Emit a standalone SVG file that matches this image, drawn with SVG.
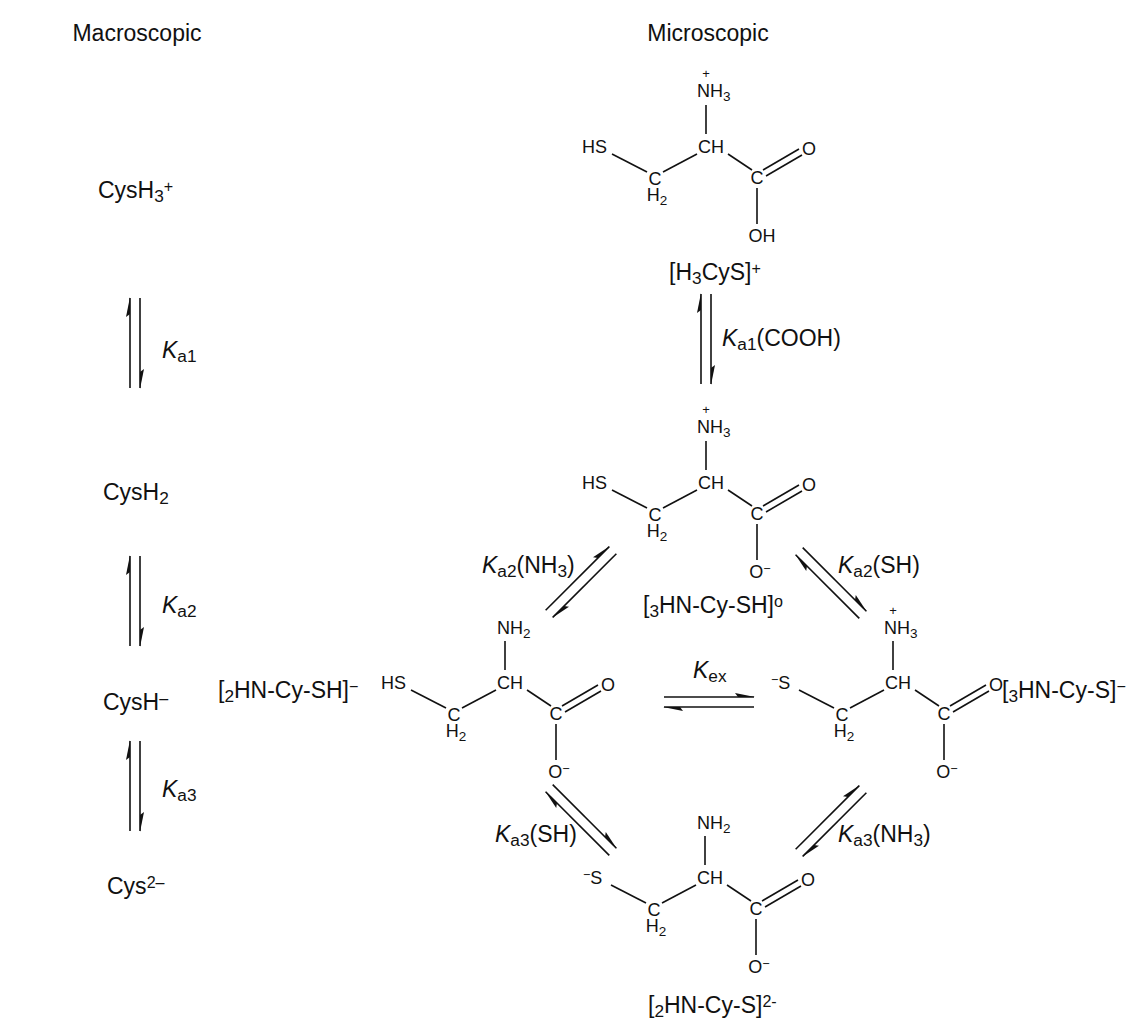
<svg xmlns="http://www.w3.org/2000/svg" width="1139" height="1033" viewBox="0 0 1139 1033">
<style>
text{font-family:"Liberation Sans",Arial,sans-serif;fill:#111}
.m{font-size:18px}
.l{font-size:23px}
.b{stroke:#111;stroke-width:1.6;fill:none}
.s{font-size:75%;baseline-shift:-25%}
.p{font-size:70%;baseline-shift:40%}
.i{font-style:italic}
</style>
<defs>
<g id="eq">
<line class="b" x1="-5" y1="-45" x2="-5" y2="45"/>
<line class="b" x1="5" y1="-45" x2="5" y2="45"/>
<polygon points="-5,-46 -9,-26 -5,-29" fill="#111"/>
<polygon points="5,46 9,26 5,29" fill="#111"/>
</g>
<g id="bb">
<line class="b" x1="-7" y1="-42" x2="-7" y2="-13"/>
<text class="m" x="-15" y="6">CH</text>
<line class="b" x1="-101" y1="7" x2="-66" y2="25"/>
<text class="m" x="-58" y="38" text-anchor="middle">C</text>
<text class="m" x="-56" y="54" text-anchor="middle">H<tspan class="s">2</tspan></text>
<line class="b" x1="-50" y1="25" x2="-16" y2="7"/>
<line class="b" x1="15" y1="7" x2="39" y2="23"/>
<text class="m" x="44" y="37" text-anchor="middle">C</text>
<line class="b" x1="50" y1="23" x2="86" y2="2"/>
<line class="b" x1="53" y1="29" x2="89" y2="8"/>
<text class="m" x="96" y="8" text-anchor="middle">O</text>
<line class="b" x1="44" y1="41" x2="44" y2="77"/>
</g>
</defs>
<text class="l" x="137" y="41" text-anchor="middle">Macroscopic</text>
<text class="l" x="708" y="41" text-anchor="middle">Microscopic</text>
<g id="macro">
<text class="l" x="98" y="198">CysH<tspan class="s">3</tspan><tspan class="p">+</tspan></text>
<text class="l" x="103" y="500">CysH<tspan class="s">2</tspan></text>
<text class="l" x="103" y="710">CysH<tspan class="p">–</tspan></text>
<text class="l" x="107" y="894">Cys<tspan class="p">2–</tspan></text>
<text class="l" x="162" y="358"><tspan class="i">K</tspan><tspan class="s">a1</tspan></text>
<text class="l" x="162" y="613"><tspan class="i">K</tspan><tspan class="s">a2</tspan></text>
<text class="l" x="162" y="797"><tspan class="i">K</tspan><tspan class="s">a3</tspan></text>
</g>
<g id="m1">
<use href="#bb" transform="translate(713,147)"/>
<text class="m" x="697" y="97">NH<tspan class="s">3</tspan></text>
<text x="706" y="78" text-anchor="middle" font-size="13">+</text>
<text class="m" x="582" y="153">HS</text>
<text class="m" x="762" y="242" text-anchor="middle">OH</text>
<text class="l" x="715" y="280" text-anchor="middle">[H<tspan class="s">3</tspan>CyS]<tspan class="p">+</tspan></text>
</g>
<g id="m2">
<use href="#bb" transform="translate(713,483)"/>
<text class="m" x="697" y="433">NH<tspan class="s">3</tspan></text>
<text x="706" y="414" text-anchor="middle" font-size="13">+</text>
<text class="m" x="582" y="489">HS</text>
<text class="m" x="760" y="578" text-anchor="middle">O<tspan class="p">−</tspan></text>
<text class="l" x="643" y="613">[<tspan class="s">3</tspan>HN-Cy-SH]<tspan class="p">o</tspan></text>
</g>
<g id="m3">
<use href="#bb" transform="translate(512,683)"/>
<text class="m" x="497" y="634">NH<tspan class="s">2</tspan></text>
<text class="m" x="381" y="689">HS</text>
<text class="m" x="559" y="778" text-anchor="middle">O<tspan class="p">−</tspan></text>
<text class="l" x="218" y="698">[<tspan class="s">2</tspan>HN-Cy-SH]<tspan class="p">−</tspan></text>
</g>
<g id="m4">
<use href="#bb" transform="translate(900,683)"/>
<text class="m" x="884" y="634">NH<tspan class="s">3</tspan></text>
<text x="893" y="615" text-anchor="middle" font-size="13">+</text>
<text class="m" x="771" y="689"><tspan class="p">−</tspan>S</text>
<text class="m" x="947" y="778" text-anchor="middle">O<tspan class="p">−</tspan></text>
<text class="l" x="1002" y="698">[<tspan class="s">3</tspan>HN-Cy-S]<tspan class="p">−</tspan></text>
</g>
<g id="m5">
<use href="#bb" transform="translate(712,878)"/>
<text class="m" x="697" y="829">NH<tspan class="s">2</tspan></text>
<text class="m" x="583" y="884"><tspan class="p">−</tspan>S</text>
<text class="m" x="759" y="973" text-anchor="middle">O<tspan class="p">−</tspan></text>
<text class="l" x="648" y="1013">[<tspan class="s">2</tspan>HN-Cy-S]<tspan class="p">2-</tspan></text>
</g>
<g id="connectors">
<use href="#eq" transform="translate(135,343)"/>
<use href="#eq" transform="translate(135,601)"/>
<use href="#eq" transform="translate(135,786)"/>
<use href="#eq" transform="translate(706,339)"/>
<use href="#eq" transform="translate(581,582) rotate(45)"/>
<use href="#eq" transform="translate(831,583) rotate(-45)"/>
<use href="#eq" transform="translate(709,702) rotate(90)"/>
<use href="#eq" transform="translate(581,820) rotate(-45)"/>
<use href="#eq" transform="translate(831,821) rotate(45)"/>
</g>
<g id="labels">
<text class="l" x="722" y="346"><tspan class="i">K</tspan><tspan class="s">a1</tspan>(COOH)</text>
<text class="l" x="482" y="573"><tspan class="i">K</tspan><tspan class="s">a2</tspan>(NH<tspan class="s">3</tspan>)</text>
<text class="l" x="838" y="573"><tspan class="i">K</tspan><tspan class="s">a2</tspan>(SH)</text>
<text class="l" x="693" y="678"><tspan class="i">K</tspan><tspan class="s">ex</tspan></text>
<text class="l" x="495" y="842"><tspan class="i">K</tspan><tspan class="s">a3</tspan>(SH)</text>
<text class="l" x="838" y="842"><tspan class="i">K</tspan><tspan class="s">a3</tspan>(NH<tspan class="s">3</tspan>)</text>
</g>
</svg>
